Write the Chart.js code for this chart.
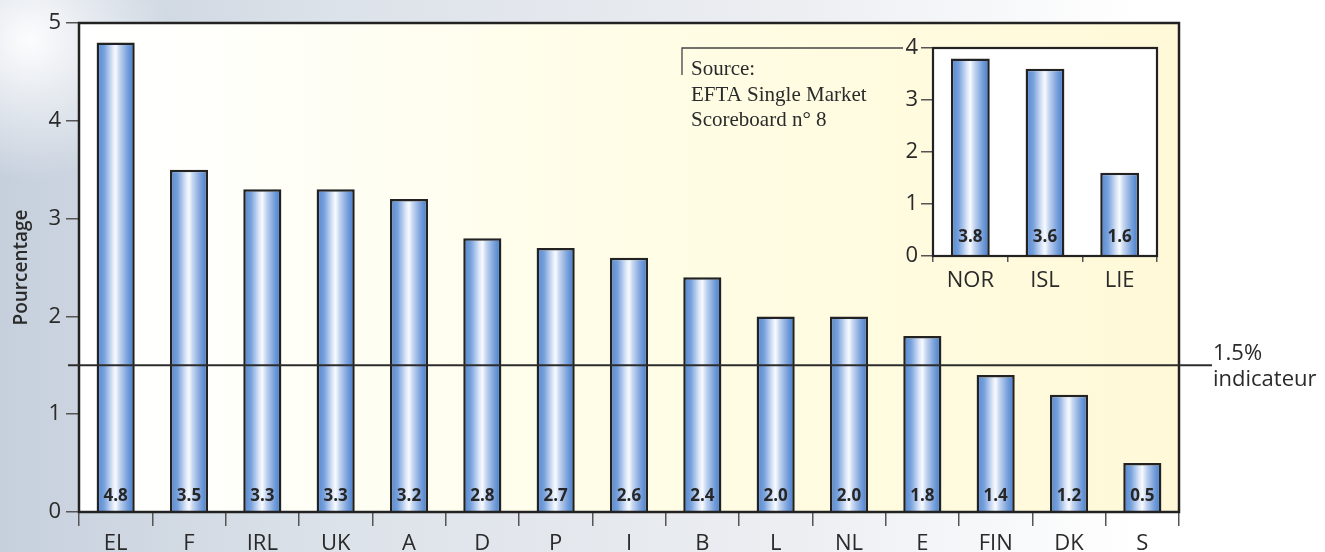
<!DOCTYPE html>
<html><head><meta charset="utf-8">
<script src="https://cdn.jsdelivr.net/npm/chart.js@4.4.1/dist/chart.umd.min.js"></script>
<style>
html,body{margin:0;padding:0;background:#fff;}
#wrap{position:relative;width:1325px;height:552px;overflow:hidden;}
#main{position:absolute;left:0;top:0;}
#inset{position:absolute;left:670px;top:25px;}
</style></head><body>
<div id="wrap"><canvas id="main" width="1325" height="552"></canvas><canvas id="inset" width="505" height="290"></canvas></div>
<script>
// ---- data ----
const categories = ['EL','F','IRL','UK','A','D','P','I','B','L','NL','E','FIN','DK','S'];
const values = [4.8,3.5,3.3,3.3,3.2,2.8,2.7,2.6,2.4,2.0,2.0,1.8,1.4,1.2,0.5];
const yTicks = [0,1,2,3,4,5];
const indicatorValue = 1.5;
const indicatorLabel = ['1.5%','indicateur'];
const yTitle = 'Pourcentage';
const insetCategories = ['NOR','ISL','LIE'];
const insetValues = [3.8,3.6,1.6];
const insetTicks = [0,1,2,3,4];
const sourceLines = ['Source:','EFTA Single Market','Scoreboard n° 8'];

// ---- styles ----
const SANS = '"Open Sans", "DejaVu Sans", sans-serif';
const SERIF = '"Liberation Serif", "DejaVu Serif", serif';
const BAR_PCT = 0.52;
const TXT = '#2a2a2a';

function barFill(c){
  const chart = c.chart, xs = chart.scales.x;
  if (!xs || !chart.chartArea || c.type !== 'data') return '#7fa3d9';
  const n = chart.data.labels.length;
  const cx = xs.getPixelForValue(c.dataIndex);
  const w = xs.width / n * BAR_PCT;
  const g = chart.ctx.createLinearGradient(cx - w/2, 0, cx + w/2, 0);
  g.addColorStop(0, '#4f86d0');
  g.addColorStop(0.2, '#78a1dc');
  g.addColorStop(0.42, '#dde7f8');
  g.addColorStop(0.5, '#f8faff');
  g.addColorStop(0.6, '#c5d6f0');
  g.addColorStop(0.8, '#7ba2dc');
  g.addColorStop(1, '#3c79ca');
  return g;
}

function drawBarLabels(chart, offset){
  const ctx = chart.ctx;
  const meta = chart.getDatasetMeta(0);
  const data = chart.data.datasets[0].data;
  ctx.save();
  ctx.font = 'bold 17px ' + SANS;
  ctx.fillStyle = '#262626';
  ctx.textAlign = 'center';
  ctx.textBaseline = 'alphabetic';
  meta.data.forEach((el, i) => {
    ctx.fillText(data[i].toFixed(1), el.x, el.base - offset);
  });
  ctx.restore();
}

const mainDeco = {
  id: 'mainDeco',
  beforeDraw(chart){
    const {ctx, width, height, chartArea:a} = chart;
    ctx.save();
    ctx.fillStyle = '#ffffff';
    ctx.fillRect(0,0,width,height);
    let g = ctx.createLinearGradient(0,0,width,0);
    g.addColorStop(0, '#c6d0dd');
    g.addColorStop(0.25, '#dce2e9');
    g.addColorStop(0.6, '#eceef2');
    g.addColorStop(0.86, '#ffffff');
    ctx.fillStyle = g;
    ctx.fillRect(0,0,width,height);
    let r = ctx.createRadialGradient(30,40,0,30,40,140);
    r.addColorStop(0,'rgba(255,255,255,0.95)');
    r.addColorStop(1,'rgba(255,255,255,0)');
    ctx.fillStyle = r;
    ctx.fillRect(0,0,width,height);
    // plot area
    g = ctx.createLinearGradient(a.left,0,a.right,0);
    g.addColorStop(0, '#ffffff');
    g.addColorStop(0.12, '#fffffb');
    g.addColorStop(0.5, '#fffde6');
    g.addColorStop(1, '#fff9d8');
    ctx.fillStyle = g;
    ctx.fillRect(a.left,a.top,a.right-a.left,a.bottom-a.top);
    ctx.restore();
  },
  afterDatasetsDraw(chart){ drawBarLabels(chart, 10); },
  afterDraw(chart){
    const {ctx, chartArea:a} = chart;
    const ys = chart.scales.y;
    ctx.save();
    ctx.strokeStyle = '#222';
    ctx.lineWidth = 2.5;
    ctx.strokeRect(a.left, a.top, a.right-a.left, a.bottom-a.top);
    const yi = ys.getPixelForValue(indicatorValue);
    ctx.lineWidth = 2;
    ctx.strokeStyle = '#2c2c2c';
    ctx.beginPath();
    ctx.moveTo(a.left - 11, yi);
    ctx.lineTo(a.right + 33, yi);
    ctx.stroke();
    ctx.fillStyle = TXT;
    ctx.font = '22px ' + SANS;
    ctx.textAlign = 'left';
    ctx.textBaseline = 'alphabetic';
    ctx.fillText(indicatorLabel[0], a.right + 34, yi - 5);
    ctx.fillText(indicatorLabel[1], a.right + 34, yi + 21);
    ctx.restore();
  }
};

const insetDeco = {
  id: 'insetDeco',
  beforeDraw(chart){
    const {ctx, chartArea:a} = chart;
    ctx.save();
    ctx.fillStyle = '#ffffff';
    ctx.fillRect(a.left,a.top,a.right-a.left,a.bottom-a.top);
    ctx.restore();
  },
  afterDatasetsDraw(chart){ drawBarLabels(chart, 13); },
  afterDraw(chart){
    const {ctx, chartArea:a} = chart;
    const ys = chart.scales.y;
    ctx.save();
    ctx.strokeStyle = '#222';
    ctx.lineWidth = 2.2;
    ctx.strokeRect(a.left, a.top, a.right-a.left, a.bottom-a.top);
    // source bracket
    const yt = ys.getPixelForValue(insetTicks[insetTicks.length-1]);
    ctx.strokeStyle = '#444';
    ctx.lineWidth = 1.3;
    ctx.beginPath();
    ctx.moveTo(a.left - 30, yt);
    ctx.lineTo(a.left - 251, yt);
    ctx.lineTo(a.left - 251, yt + 27);
    ctx.stroke();
    ctx.fillStyle = TXT;
    ctx.font = '21px ' + SERIF;
    ctx.textAlign = 'left';
    ctx.textBaseline = 'alphabetic';
    sourceLines.forEach((s, i) => ctx.fillText(s, a.left - 242, yt + 27 + i * 25.5));
    ctx.restore();
  }
};

function makeMain(){
  new Chart(document.getElementById('main'), {
    type: 'bar',
    data: { labels: categories, datasets: [{ data: values, backgroundColor: barFill,
      borderColor: '#222', borderWidth: 2.5, barPercentage: BAR_PCT, categoryPercentage: 1 }] },
    options: {
      responsive: false, animation: false, devicePixelRatio: 1,
      layout: { padding: { left: 0, top: 23, right: 146, bottom: 0 } },
      plugins: { legend: { display: false }, tooltip: { enabled: false } },
      scales: {
        x: { offset: true,
          grid: { offset: true, drawOnChartArea: false, tickLength: 14, color: '#555', lineWidth: 1.5 },
          border: { display: false },
          ticks: { font: { family: SANS, size: 22 }, color: TXT, padding: 5, maxRotation: 0, autoSkip: false },
          afterFit: s => { s.height = 40; } },
        y: { min: 0, max: yTicks[yTicks.length-1],
          afterBuildTicks: s => { s.ticks = yTicks.map(v => ({ value: v })); },
          grid: { drawOnChartArea: false, tickLength: 13, color: '#555', lineWidth: 1.5 },
          border: { display: false },
          ticks: { font: { family: SANS, size: 22 }, color: TXT, padding: 5 },
          title: { display: true, text: yTitle, color: TXT, font: { family: SANS, size: 19, weight: '600' }, padding: { top: 10, bottom: 0 } },
          afterFit: s => { s.width = 79; } }
      }
    },
    plugins: [mainDeco]
  });
}

function makeInset(){
  new Chart(document.getElementById('inset'), {
    type: 'bar',
    data: { labels: insetCategories, datasets: [{ data: insetValues, backgroundColor: barFill,
      borderColor: '#222', borderWidth: 2.5, barPercentage: BAR_PCT, categoryPercentage: 1 }] },
    options: {
      responsive: false, animation: false, devicePixelRatio: 1,
      layout: { padding: { left: 0, top: 23, right: 18, bottom: 0 } },
      plugins: { legend: { display: false }, tooltip: { enabled: false } },
      scales: {
        x: { offset: true,
          grid: { offset: true, drawOnChartArea: false, tickLength: 6, color: '#555', lineWidth: 1.5 },
          border: { display: false },
          ticks: { font: { family: SANS, size: 22 }, color: TXT, padding: 6, maxRotation: 0, autoSkip: false },
          afterFit: s => { s.height = 59; } },
        y: { min: 0, max: insetTicks[insetTicks.length-1],
          afterBuildTicks: s => { s.ticks = insetTicks.map(v => ({ value: v })); },
          grid: { drawOnChartArea: false, tickLength: 12, color: '#555', lineWidth: 1.5 },
          border: { display: false },
          ticks: { font: { family: SANS, size: 22 }, color: TXT, padding: 3 },
          afterFit: s => { s.width = 263; } }
      }
    },
    plugins: [insetDeco]
  });
}

Promise.all([
  document.fonts.load('22px "Open Sans"'),
  document.fonts.load('bold 17px "Open Sans"'),
  document.fonts.load('600 19px "Open Sans"'),
  document.fonts.load('21px "Liberation Serif"')
]).catch(()=>{}).then(() => { makeMain(); makeInset(); });
</script>
</body></html>
